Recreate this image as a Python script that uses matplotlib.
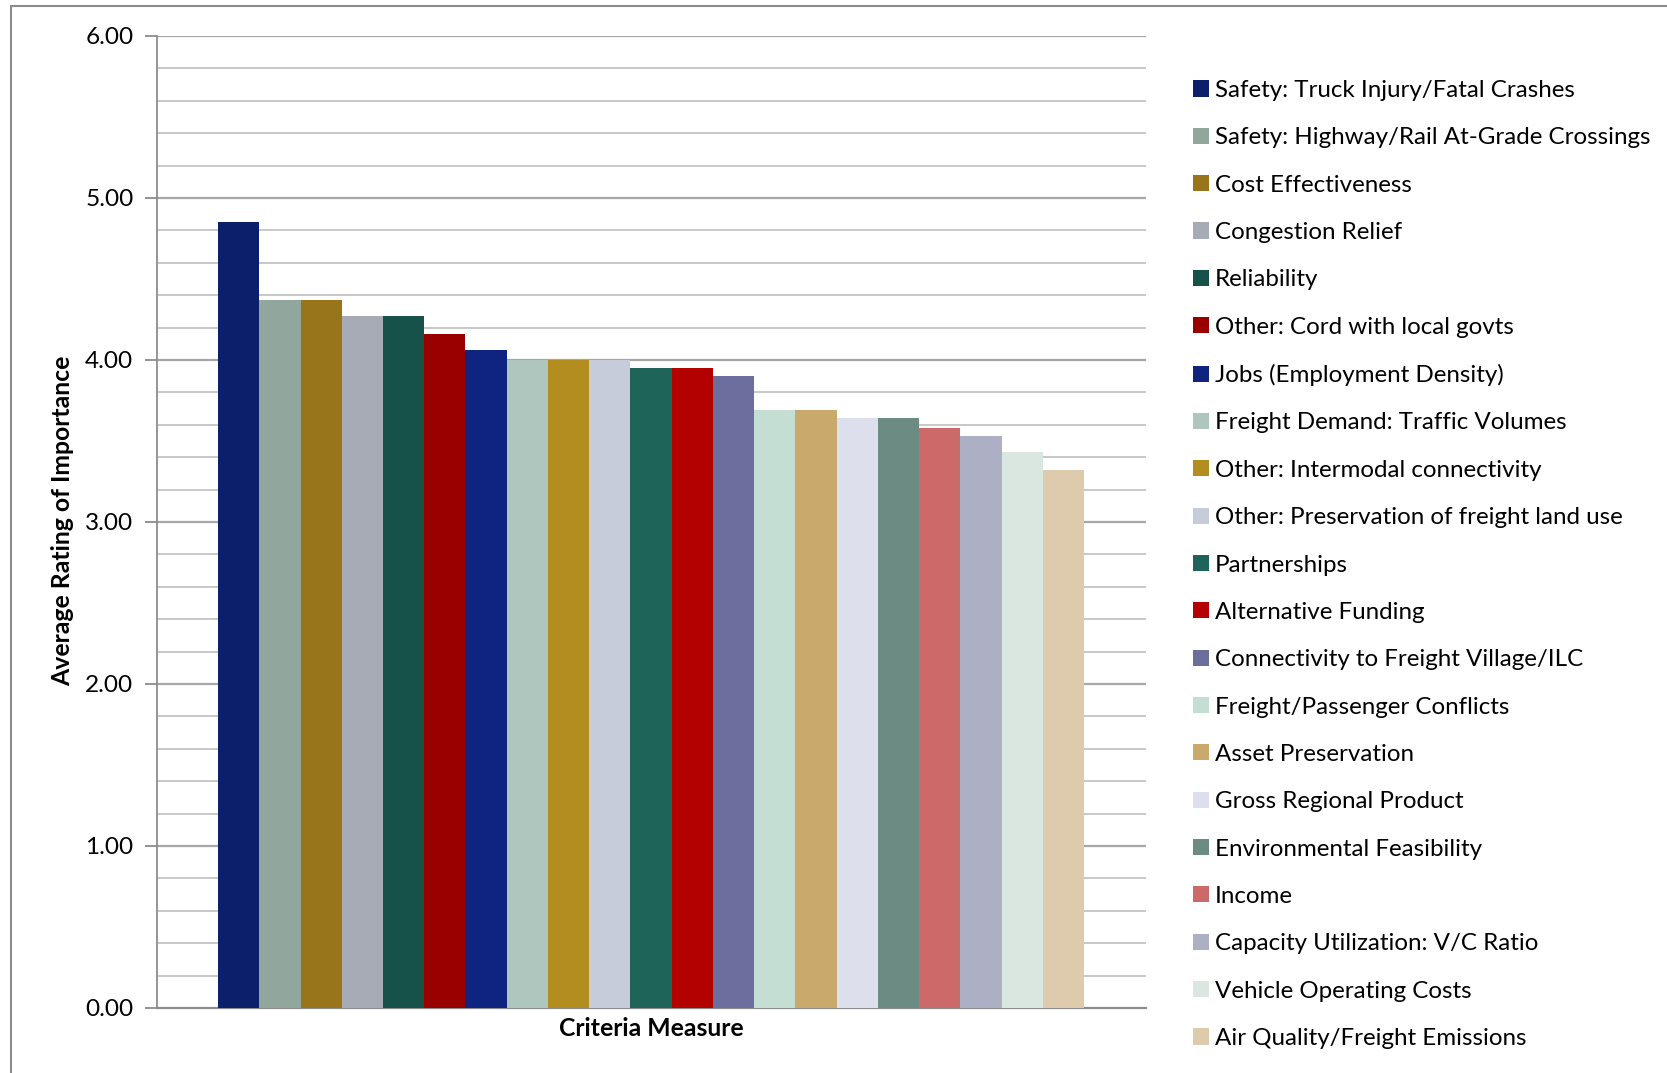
import matplotlib
matplotlib.use("Agg")
import matplotlib.pyplot as plt
from matplotlib.patches import Rectangle
import numpy as np

plt.rcParams["font.family"] = ["Lato", "DejaVu Sans"]

categories = [
    "Safety: Truck Injury/Fatal Crashes",
    "Safety: Highway/Rail At-Grade Crossings",
    "Cost Effectiveness",
    "Congestion Relief",
    "Reliability",
    "Other: Cord with local govts",
    "Jobs (Employment Density)",
    "Freight Demand: Traffic Volumes",
    "Other: Intermodal connectivity",
    "Other: Preservation of freight land use",
    "Partnerships",
    "Alternative Funding",
    "Connectivity to Freight Village/ILC",
    "Freight/Passenger Conflicts",
    "Asset Preservation",
    "Gross Regional Product",
    "Environmental Feasibility",
    "Income",
    "Capacity Utilization: V/C Ratio",
    "Vehicle Operating Costs",
    "Air Quality/Freight Emissions",
]
ratings = [4.85, 4.37, 4.37, 4.27, 4.27, 4.16, 4.06, 4.00, 4.00, 4.00, 3.95,
           3.95, 3.90, 3.69, 3.69, 3.64, 3.64, 3.58, 3.53, 3.43, 3.32]
colors = [
    "#0B1F6B", "#91A79D", "#98751A", "#A7ABB6", "#16524A", "#990000", "#0E2480",
    "#AEC6BD", "#B48D20", "#C6CCD9", "#1E6458", "#B30000", "#6C6F9E", "#C5DED4",
    "#CAA96D", "#DDE0EC", "#6C8B82", "#CC6A69", "#ADAFC5", "#D9E7E0", "#DECAAD",
]
y_ticks = [0, 1, 2, 3, 4, 5, 6]

W, H = 1667, 1073
fig = plt.figure(figsize=(W / 100, H / 100), dpi=100)
ax = fig.add_axes([157 / W, 1 - 1008 / H, (1146 - 157) / W, (1008 - 36) / H])

x = np.arange(len(ratings))
ax.bar(x, ratings, width=1.0, color=colors, zorder=3, linewidth=0)

ax.set_xlim(-1.98, 22.0)
ax.set_ylim(0, 6)

# gridlines: major every 1.0, minor every 0.2
for v in np.arange(0.2, 6.01, 0.2):
    major = abs(v - round(v)) < 1e-6
    ax.axhline(v, color="#A6A6A6" if major else "#C4C4C4",
               lw=1.6 if major else 1.3, zorder=1)

ax.set_yticks(y_ticks)
ax.set_yticklabels([f"{t:.2f}" for t in y_ticks], fontsize=17.6)
ax.tick_params(axis="y", length=9, width=1.3, color="#8C8C8C", pad=8)
ax.set_xticks([])
for side in ["top", "right"]:
    ax.spines[side].set_visible(False)
ax.spines["left"].set_color("#8C8C8C")
ax.spines["left"].set_linewidth(1.3)
ax.spines["bottom"].set_color("#8C8C8C")
ax.spines["bottom"].set_linewidth(1.6)

fig.text(63 / W, 1 - 521 / H, "Average Rating of Importance", rotation=90,
         ha="center", va="center", fontsize=17.8, fontweight="bold")
fig.text(651 / W, 1 - 1028 / H, "Criteria Measure", ha="center", va="center",
         fontsize=17.8, fontweight="bold")

# legend, one entry per criterion
handles = [Rectangle((0, 0), 1, 1, facecolor=c, edgecolor="none") for c in colors]
leg = fig.legend(handles, categories, loc="upper left",
                 bbox_to_anchor=(1193 / W, 1 - 80 / H), frameon=False,
                 fontsize=17.4, handlelength=0.65, handleheight=0.65,
                 handletextpad=0.25, labelspacing=1.09, borderaxespad=0,
                 borderpad=0)

# outer chart border
fig.add_artist(Rectangle((11 / W, -0.1), 1.2, 1 - 6 / H + 0.1,
                         transform=fig.transFigure, fill=False,
                         edgecolor="#8C8C8C", lw=1.5))

fig.savefig("out.png", dpi=100, facecolor="white")
